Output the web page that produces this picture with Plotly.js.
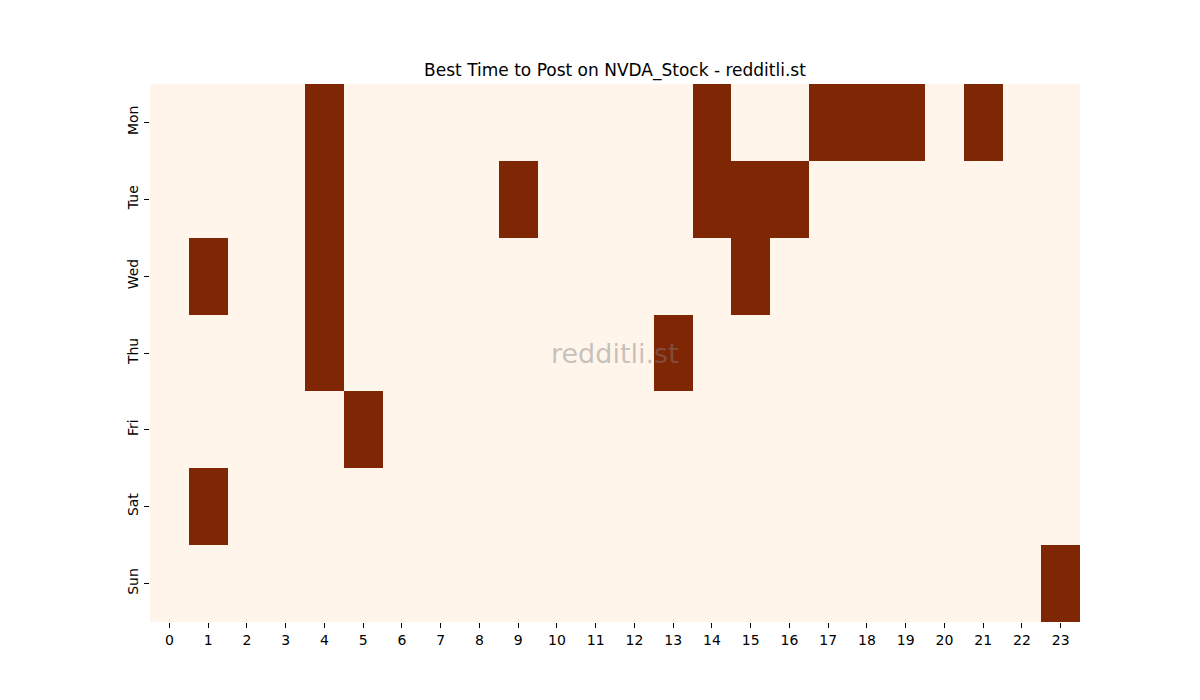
<!DOCTYPE html>
<html>
<head>
<meta charset="utf-8">
<script src="https://cdn.plot.ly/plotly-3.0.1.min.js"></script>
<style>
  body { margin: 0; background: #fff; }
  #chart { width: 1200px; height: 700px; }
</style>
</head>
<body>
<div id="chart"></div>
<script>
const hours = [];
for (let h = 0; h < 24; h++) hours.push(h);
const days = ["Mon", "Tue", "Wed", "Thu", "Fri", "Sat", "Sun"];

// 1 = best hour to post, 0 = not
const mon = [0,0,0,0,1,0,0,0,0,0,0,0,0,0,1,0,0,1,1,1,0,1,0,0];
const tue = [0,0,0,0,1,0,0,0,0,1,0,0,0,0,1,1,1,0,0,0,0,0,0,0];
const wed = [0,1,0,0,1,0,0,0,0,0,0,0,0,0,0,1,0,0,0,0,0,0,0,0];
const thu = [0,0,0,0,1,0,0,0,0,0,0,0,0,1,0,0,0,0,0,0,0,0,0,0];
const fri = [0,0,0,0,0,1,0,0,0,0,0,0,0,0,0,0,0,0,0,0,0,0,0,0];
const sat = [0,1,0,0,0,0,0,0,0,0,0,0,0,0,0,0,0,0,0,0,0,0,0,0];
const sun = [0,0,0,0,0,0,0,0,0,0,0,0,0,0,0,0,0,0,0,0,0,0,0,1];

const trace = {
  type: 'heatmap',
  x: hours,
  y: days,
  z: [mon, tue, wed, thu, fri, sat, sun],
  colorscale: [[0, '#fff5eb'], [1, '#7f2704']],
  zmin: 0,
  zmax: 1,
  showscale: false,
  hoverinfo: 'x+y+z'
};

const layout = {
  width: 1200,
  height: 700,
  margin: { l: 150, r: 120, t: 84, b: 78 },
  paper_bgcolor: '#ffffff',
  plot_bgcolor: '#ffffff',
  font: { family: 'DejaVu Sans, sans-serif', size: 14, color: '#000' },
  title: {
    text: 'Best Time to Post on NVDA_Stock - redditli.st',
    font: { size: 17, color: '#000' },
    x: 0.5125,
    xanchor: 'center',
    y: 1 - 70 / 700,
    yanchor: 'middle'
  },
  xaxis: {
    type: 'linear',
    tickmode: 'array',
    tickvals: hours,
    ticktext: hours.map(String),
    range: [-0.5, 23.5],
    ticks: 'outside',
    ticklen: 5,
    tickcolor: '#000',
    showgrid: false,
    zeroline: false,
    showline: false
  },
  yaxis: {
    type: 'category',
    categoryorder: 'array',
    categoryarray: days,
    autorange: 'reversed',
    tickangle: -90,
    ticks: 'outside',
    ticklen: 5,
    tickcolor: '#000',
    showgrid: false,
    zeroline: false,
    showline: false
  },
  annotations: [{
    text: 'redditli.st',
    xref: 'paper',
    yref: 'paper',
    x: 0.5,
    y: 0.5,
    showarrow: false,
    font: { size: 27, color: 'rgba(128,128,128,0.45)' }
  }]
};

Plotly.newPlot('chart', [trace], layout, { displayModeBar: false, staticPlot: true });
</script>
</body>
</html>
